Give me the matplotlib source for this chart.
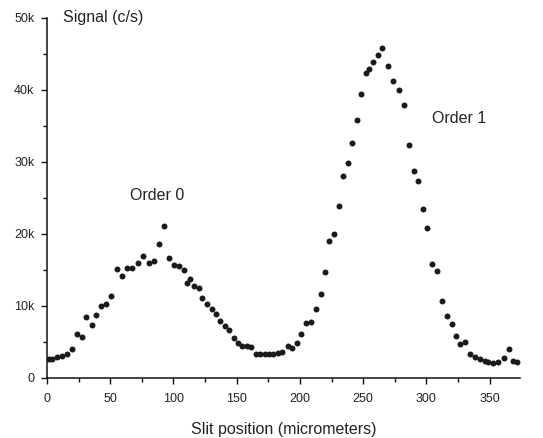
import matplotlib
matplotlib.use("Agg")
import matplotlib.pyplot as plt
from matplotlib.ticker import FuncFormatter, MultipleLocator

slit_um = [
    1.8, 4.2, 8.2, 12.2, 16.1, 20.0, 24.0, 28.0, 31.0, 35.5,
    38.6, 42.6, 46.6, 50.5, 55.6, 59.5, 63.5, 67.5, 71.7, 75.9,
    80.4, 84.4, 88.9, 92.3, 96.8, 100.3, 104.2, 108.2, 110.9, 113.0,
    116.1, 119.8, 122.8, 126.7, 130.7, 133.6, 136.8, 140.5, 144.0, 147.5,
    151.0, 154.5, 158.0, 161.5, 165.0, 168.5, 172.0, 175.5, 179.0, 182.5,
    186.2, 190.2, 193.7, 197.3, 200.8, 204.8, 208.7, 212.7, 216.7, 219.8,
    223.3, 226.7, 230.6, 233.9, 237.8, 241.5, 245.0, 248.5, 252.3, 254.5,
    258.0, 261.5, 265.0, 269.4, 273.8, 278.2, 282.6, 286.5, 290.5, 293.4,
    297.0, 300.4, 304.2, 308.0, 312.3, 316.2, 320.2, 323.6, 326.8, 330.7,
    334.6, 338.6, 342.5, 346.5, 349.0, 353.0, 357.0, 361.0, 365.0, 368.8,
    372.0,
]
signal_cps = [
    2600, 2650, 2870, 3100, 3330, 3990, 6100, 5650, 8520, 7360,
    8750, 10000, 10240, 11390, 15100, 14170, 15320, 15320, 16010, 16940,
    16010, 16250, 18570, 21100, 16710, 15650, 15560, 15000, 13240, 13700,
    12780, 12540, 11150, 10240, 9540, 8840, 7920, 7200, 6600, 5500,
    4800, 4500, 4400, 4300, 3400, 3300, 3300, 3400, 3400, 3500,
    3650, 4490, 4210, 4900, 6110, 7690, 7820, 9540, 11620, 14760,
    19030, 19950, 23880, 28000, 29800, 32600, 35800, 39500, 42300, 42900,
    43900, 44900, 45800, 43300, 41300, 40000, 37900, 32400, 28700, 27300,
    23500, 20800, 15800, 14800, 10700, 8650, 7500, 5880, 4720, 4950,
    3330, 2960, 2640, 2400, 2260, 2080, 2170, 2730, 4030, 2400,
    2170,
]

plt.rcParams["font.family"] = ["Liberation Sans", "DejaVu Sans"]
text_col = "#222222"

fig = plt.figure(figsize=(5.43, 4.38), dpi=100)
ax = fig.add_axes([0.0866, 0.137, 0.871, 0.822])

ax.plot(slit_um, signal_cps, linestyle="none", marker="o", markersize=4.3,
        color="#1a1a1a", markeredgewidth=0)

ax.set_xlim(0, 374)
ax.set_ylim(0, 50000)
ax.xaxis.set_major_locator(MultipleLocator(50))
ax.xaxis.set_minor_locator(MultipleLocator(25))
ax.yaxis.set_major_locator(MultipleLocator(10000))
ax.yaxis.set_minor_locator(MultipleLocator(5000))
ax.yaxis.set_major_formatter(
    FuncFormatter(lambda v, _: "0" if v == 0 else f"{v / 1000:.0f}k"))

for side in ("top", "right"):
    ax.spines[side].set_visible(False)
for side in ("left", "bottom"):
    ax.spines[side].set_linewidth(1.1)
    ax.spines[side].set_color("#111111")

ax.tick_params(which="major", direction="out", length=4, width=1.0,
               labelsize=9, colors="#111111", labelcolor=text_col)
ax.tick_params(which="minor", direction="out", length=3, width=1.0,
               colors="#111111")
ax.tick_params(axis="x", which="major", pad=7)
ax.tick_params(axis="y", which="major", pad=5)

ax.set_xlabel("Slit position (micrometers)", fontsize=11.5, color=text_col,
              labelpad=12)
ax.text(12.6, 50000, "Signal (c/s)", fontsize=11.5, color=text_col,
        ha="left", va="center", clip_on=False)
ax.text(65.5, 25300, "Order 0", fontsize=11.5, color=text_col,
        ha="left", va="center")
ax.text(304.7, 36100, "Order 1", fontsize=11.5, color=text_col,
        ha="left", va="center")

fig.savefig("out.png", dpi=100)
plt.close(fig)
